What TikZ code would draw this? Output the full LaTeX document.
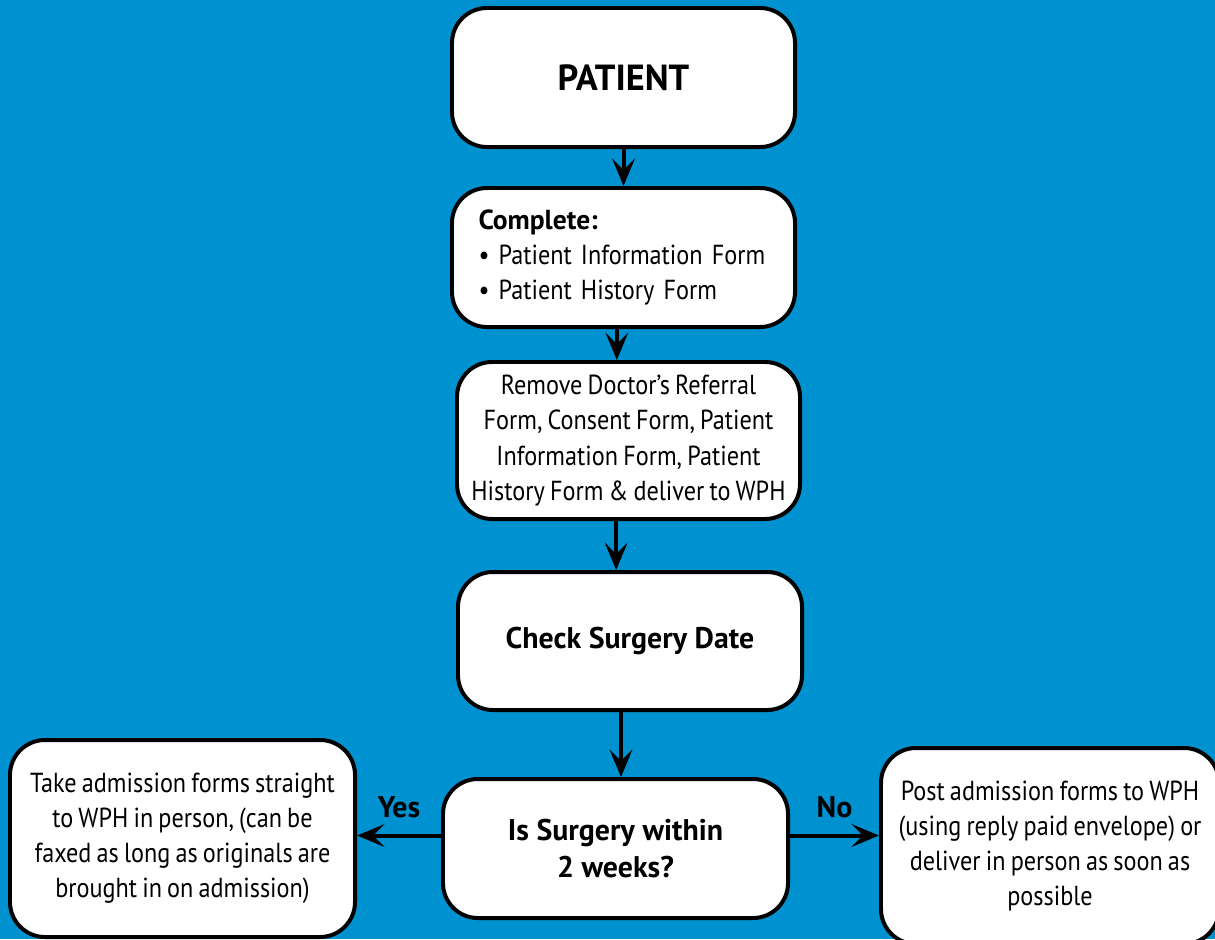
\documentclass[tikz,border=0pt]{standalone}
\usepackage{fontspec}
\setmainfont{PT Sans}
\newfontfamily\narrowfont[FakeStretch=0.88, WordSpace=0.8]{PT Sans}
\usetikzlibrary{arrows.meta}
\definecolor{bgblue}{RGB}{0,146,208}

\begin{document}
\begin{tikzpicture}[x=0.03cm, y=-0.03cm, line join=round,
    box/.style={draw=black, fill=white, line width=3.4pt, rounded corners=1.05cm, align=center, inner sep=0pt},
    flow/.style={-{Stealth[length=0.82cm, width=0.68cm, inset=0.34cm]}, line width=3.4pt},
    body/.style={font=\narrowfont\fontsize{23.5}{30}\selectfont},
    heavy/.style={font=\bfseries\fontsize{25.5}{31}\selectfont}]
  \fill[bgblue] (0,0) rectangle (1215,939);
  \clip (0,0) rectangle (1215,939);

  \node[box, minimum width=10.29cm, minimum height=4.17cm, font=\bfseries\fontsize{31}{36}\selectfont] (patient) at (623.5,77.5) {PATIENT};
  \node[box, minimum width=10.29cm, minimum height=4.17cm, body, align=left, text width=8.7cm] (complete) at (623.5,257.5)
    {{\normalfont\bfseries Complete:}\\\textbullet\ Patient Information Form\\\textbullet\ Patient History Form};
  \node[box, minimum width=10.29cm, minimum height=4.71cm, body] (remove) at (628.5,440.5)
    {Remove Doctor’s Referral\\Form, Consent Form, Patient\\Information Form, Patient\\History Form \& deliver to WPH};
  \node[box, minimum width=10.32cm, minimum height=4.14cm, heavy] (check) at (630,641) {Check Surgery Date};
  \node[box, minimum width=10.35cm, minimum height=4.17cm, heavy] (question) at (615.5,848.5) {Is Surgery within\\2 weeks?};
  \node[box, minimum width=10.35cm, minimum height=5.91cm, body] (yesbox) at (182.5,838.5)
    {Take admission forms straight\\to WPH in person, (can be\\faxed as long as originals are\\brought in on admission)};
  \node[box, minimum width=10.14cm, minimum height=5.88cm, body] (nobox) at (1050,846)
    {Post admission forms to WPH\\(using reply paid envelope) or\\deliver in person as soon as\\possible};

  \draw[flow] (patient.south) -- (patient.south |- complete.north);
  \draw[flow] ([xshift=-0.2cm]complete.south) -- ([xshift=-0.2cm]complete.south |- remove.north);
  \draw[flow] ([xshift=-0.37cm]remove.south) -- ([xshift=-0.37cm]remove.south |- check.north);
  \draw[flow] ([xshift=-0.27cm]check.south) -- ([xshift=-0.27cm]check.south |- question.north);
  \draw[flow] ([yshift=0.39cm]question.west) -- ([yshift=0.39cm]question.west -| yesbox.east)
    node[pos=0.5, above=0.35cm, heavy] {Yes};
  \draw[flow] ([yshift=0.39cm]question.east) -- ([yshift=0.39cm]question.east -| nobox.west)
    node[pos=0.5, above=0.35cm, heavy] {No};
\end{tikzpicture}
\end{document}
